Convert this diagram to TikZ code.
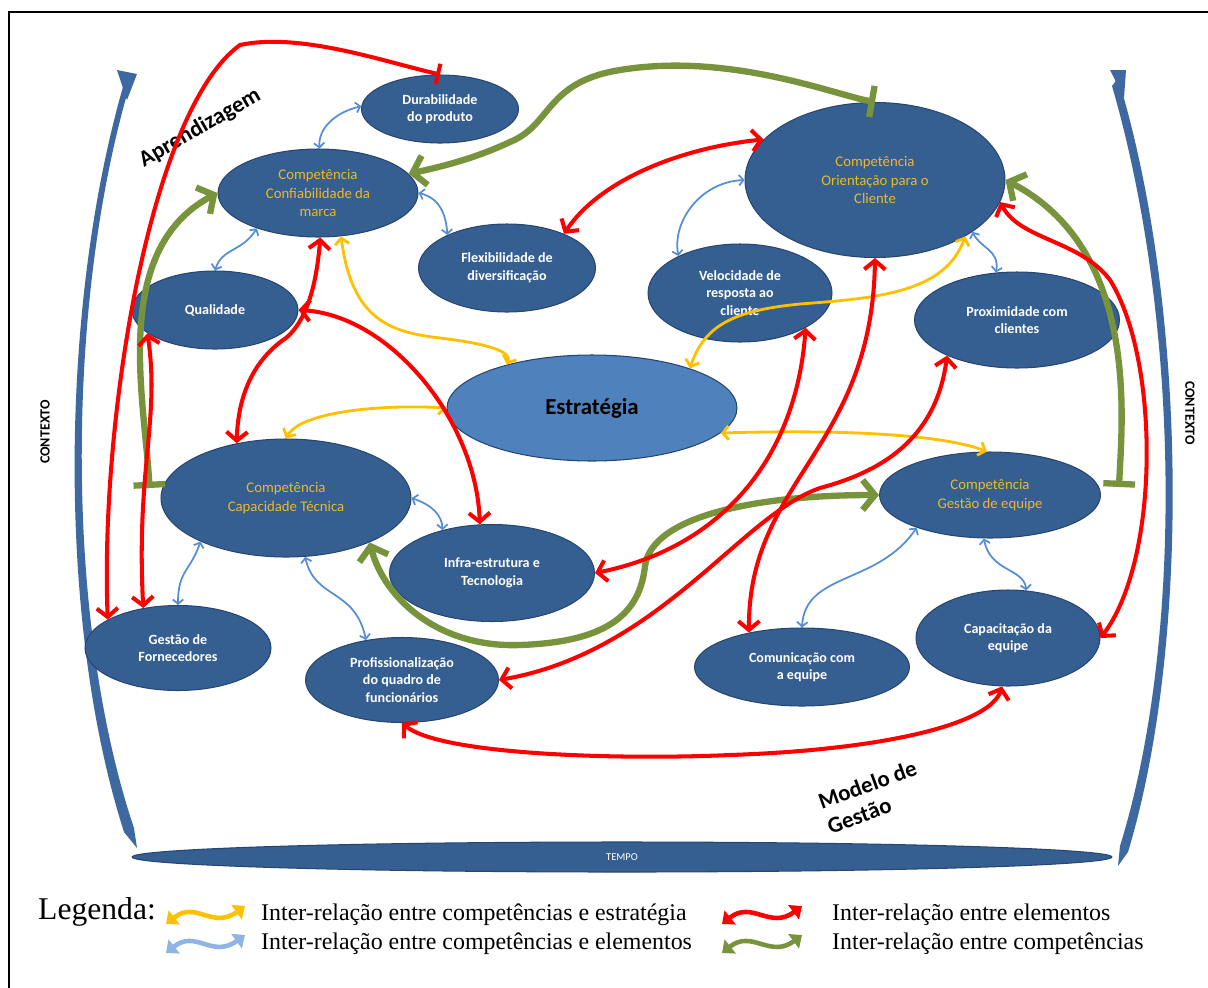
\documentclass[tikz,border=0pt]{standalone}
\usepackage{fontspec}
\setmainfont{Liberation Serif}
\newfontfamily\calib{Carlito}
\usetikzlibrary{shapes.geometric,% ellipse nodes
arrows.meta}
\definecolor{nodeblue}{RGB}{54,95,145}
\definecolor{nodeedge}{RGB}{38,70,112}
\definecolor{estrblue}{RGB}{79,129,189}
\definecolor{compyellow}{RGB}{235,185,40}
\definecolor{relred}{RGB}{255,0,0}
\definecolor{relgreen}{RGB}{119,147,60}
\definecolor{relyellow}{RGB}{255,192,0}
\definecolor{relblue}{RGB}{85,142,213}
\definecolor{legblue}{RGB}{141,180,226}
\definecolor{sideblue}{RGB}{62,104,160}
\tikzset{
  rb/.tip={Straight Barb[length=5pt,width=12pt]},
  gb/.tip={Straight Barb[length=7pt,width=17pt]},
  yb/.tip={Straight Barb[length=3.5pt,width=8pt]},
  bb/.tip={Straight Barb[length=2.5pt,width=6pt]},
  rt/.tip={Bar[width=12pt]},
  gt/.tip={Bar[width=18pt]},
  lt/.tip={Triangle[length=6pt,width=10pt]},
  elem/.style={ellipse, fill=nodeblue, draw=nodeedge, line width=0.6pt, inner sep=0pt,
    align=center, text=white, font=\calib\bfseries\fontsize{8}{10}\selectfont},
  comp/.style={elem, text=compyellow, font=\calib\fontsize{8.4}{10.5}\selectfont},
  estrnode/.style={elem, fill=estrblue, text=black, font=\calib\bfseries\fontsize{13}{15}\selectfont},
  redrel/.style={draw=relred, line width=2.3pt, line cap=round, rb-rb},
  greenrel/.style={draw=relgreen, line width=3.6pt, line cap=round, gb-gb},
  yelrel/.style={draw=relyellow, line width=1.6pt, line cap=round, yb-yb},
  bluerel/.style={draw=relblue, line width=1pt, line cap=round, bb-bb},
  legarrow/.style={line width=2.6pt, lt-lt},
  legtext/.style={anchor=west, font=\fontsize{13.6}{15}\selectfont},
  sidetext/.style={font=\calib\bfseries\fontsize{8}{9}\selectfont},
  bigtext/.style={font=\calib\bfseries\fontsize{13}{15}\selectfont}
}
\begin{document}
\begin{tikzpicture}[x=0.02cm, y=-0.02cm]
  \useasboundingbox (0,0) rectangle (1208,988);
  \draw[line width=1.1pt] (9,988) -- (9,12) -- (1208,12);
  % contexto / tempo
  \fill[sideblue] (125,80) .. controls (60,300) and (56,620) .. (124,832) -- (137,848) -- (134,828)
    .. controls (64,620) and (66,300) .. (130,84) -- cycle;
  \fill[sideblue] (117,70) -- (137,74) -- (127,100) -- cycle;
  \fill[sideblue] (1118,78) .. controls (1186,300) and (1192,640) .. (1128,852) -- (1118,866) -- (1120,846)
    .. controls (1184,640) and (1180,320) .. (1112,86) -- cycle;
  \fill[sideblue] (1110,70) -- (1126,70) -- (1124,98) -- cycle;
  \node[elem, font=\calib\fontsize{6}{7}\selectfont, minimum width=19.6cm, minimum height=0.6cm] (tempo) at (622,857) {TEMPO};
  \node[sidetext, rotate=90] (ctxl) at (45,432) {CONTEXTO};
  \node[sidetext, rotate=-90] (ctxr) at (1190,413) {CONTEXTO};
  \node[bigtext, rotate=30] (aprend) at (200,128) {Aprendizagem};
  \node[bigtext, rotate=20, align=left] (modelo) at (872,797) {Modelo de\\Gestão};

  % elementos e competencias
  \node[elem, minimum width=3.14cm, minimum height=1.36cm] (dura) at (440,109) {Durabilidade\\do produto};
  \node[comp, minimum width=4cm, minimum height=1.76cm] (conf) at (318,193) {Competência\\Confiabilidade da\\marca};
  \node[elem, minimum width=3.54cm, minimum height=1.76cm] (flex) at (507,268) {Flexibilidade de\\diversificação};
  \node[elem, minimum width=3.32cm, minimum height=1.56cm] (qual) at (215,310) {Qualidade};
  \node[comp, minimum width=5.2cm, minimum height=3.1cm] (orie) at (875,180) {Competência\\Orientação para o\\Cliente};
  \node[elem, minimum width=3.68cm, minimum height=1.96cm] (velo) at (740,293) {Velocidade de\\resposta ao\\cliente};
  \node[elem, minimum width=4.1cm, minimum height=1.92cm] (prox) at (1017,320) {Proximidade com\\clientes};
  \node[estrnode, minimum width=5.8cm, minimum height=2.12cm] (estr) at (592,408) {Estratégia};
  \node[comp, minimum width=5cm, minimum height=2.36cm] (capa) at (286,498) {Competência\\Capacidade Técnica};
  \node[elem, minimum width=4.1cm, minimum height=1.94cm] (infr) at (492,573) {Infra-estrutura e\\Tecnologia};
  \node[elem, minimum width=3.72cm, minimum height=1.7cm] (forn) at (178,648) {Gestão de\\Fornecedores};
  \node[elem, minimum width=3.86cm, minimum height=1.7cm] (prof) at (402,680) {Profissionalização\\do quadro de\\funcionários};
  \node[comp, minimum width=4.42cm, minimum height=1.72cm] (gest) at (990,495) {Competência\\Gestão de equipe};
  \node[elem, minimum width=4.3cm, minimum height=1.56cm] (comu) at (802,667) {Comunicação com\\a equipe};
  \node[elem, minimum width=3.68cm, minimum height=1.92cm] (capc) at (1008,638) {Capacitação da\\equipe};

  % competencias e elementos
  \draw[bluerel] (dura.178) .. controls (336,112) and (318,128) .. (conf.88);
  \draw[bluerel] (conf.east) .. controls (440,198) and (446,215) .. (flex.151);
  \draw[bluerel] (conf.210) .. controls (242,252) and (222,248) .. (qual.north);
  \draw[bluerel] (orie.west) .. controls (700,182) and (672,222) .. (velo.149);
  \draw[bluerel] (orie.-28) .. controls (980,248) and (1000,250) .. (prox.114);
  \draw[bluerel] (capa.east) .. controls (432,505) and (442,515) .. (infr.139);
  \draw[bluerel] (capa.207) .. controls (190,572) and (178,570) .. (forn.north);
  \draw[bluerel] (capa.288) .. controls (315,600) and (355,588) .. (prof.132);
  \draw[bluerel] (gest.204) .. controls (878,585) and (805,572) .. (comu.north);
  \draw[bluerel] (gest.-98) .. controls (990,572) and (1024,568) .. (capc.69);

  % competencias e estrategia
  \draw[yelrel] (conf.-62) .. controls (352,320) and (390,332) .. (440,338) .. controls (490,344) and (512,352) .. (estr.153);
  \draw[yelrel] (estr.west) .. controls (380,404) and (300,412) .. (capa.north);
  \draw[yelrel] (estr.22) .. controls (705,322) and (740,310) .. (800,304) .. controls (880,298) and (945,292) .. (orie.-32);
  \draw[yelrel] (estr.-11) .. controls (820,430) and (935,432) .. (gest.94);

  % entre competencias
  \draw[greenrel, gt-gb] (orie.north) .. controls (835,95) and (730,52) .. (620,70) .. controls (545,82) and (552,125) .. (510,142)
    .. controls (480,156) and (450,165) .. (conf.12);
  \draw[greenrel, gt-gb] ([xshift=-0.22cm, yshift=0.2cm]capa.west) .. controls (145,400) and (110,250) .. (conf.west);
  \draw[greenrel, gt-gb] ([xshift=0.36cm, yshift=0.16cm]gest.east) .. controls (1122,420) and (1140,250) .. (orie.east);
  \draw[greenrel] (capa.-28) .. controls (385,600) and (440,648) .. (520,645) .. controls (610,642) and (640,612) .. (645,566)
    .. controls (652,515) and (760,495) .. (gest.west);

  % entre elementos
  \draw[redrel, rb-rt] (forn.158) .. controls (100,420) and (150,110) .. (240,45) .. controls (300,32) and (385,62) .. (dura.north);
  \draw[redrel] (qual.199) .. controls (160,420) and (136,470) .. (forn.131);
  \draw[redrel] (conf.-87) .. controls (316,290) and (305,322) .. (286,338) .. controls (256,358) and (238,392) .. (capa.132);
  \draw[redrel] (qual.0) .. controls (390,315) and (476,420) .. (infr.104);
  \draw[redrel] (flex.31) .. controls (600,180) and (680,148) .. (orie.160);
  \draw[redrel] (velo.-28) .. controls (796,460) and (720,548) .. (infr.0);
  \draw[redrel] (orie.south) .. controls (872,450) and (748,480) .. (comu.147);
  \draw[redrel] (prox.207) .. controls (936,440) and (880,472) .. (820,488) .. controls (740,516) and (660,652) .. (prof.0);
  \draw[redrel] (orie.-10) .. controls (1020,240) and (1080,240) .. (1110,280) .. controls (1160,360) and (1160,560) .. (capc.0);
  \draw[redrel] (prof.south) .. controls (440,755) and (620,760) .. (730,755) .. controls (880,750) and (990,725) .. (capc.-97);

  % legenda
  \node[anchor=west, font=\fontsize{18}{20}\selectfont] (legenda) at (32,912) {Legenda:};
  \node[legtext] (leg1) at (255,915) {Inter-relação entre competências e estratégia};
  \node[legtext] (leg2) at (255,944) {Inter-relação entre competências e elementos};
  \node[legtext] (leg3) at (826,915) {Inter-relação entre elementos};
  \node[legtext] (leg4) at (826,944) {Inter-relação entre competências};
  \draw[legarrow, relyellow] (166,924) .. controls (196,900) and (212,930) .. (245,906);
  \draw[legarrow, legblue] (166,953) .. controls (196,929) and (212,959) .. (245,935);
  \draw[legarrow, relred] (722,924) .. controls (752,900) and (770,930) .. (802,906);
  \draw[legarrow, relgreen] (722,953) .. controls (752,929) and (770,959) .. (802,935);
\end{tikzpicture}
\end{document}
